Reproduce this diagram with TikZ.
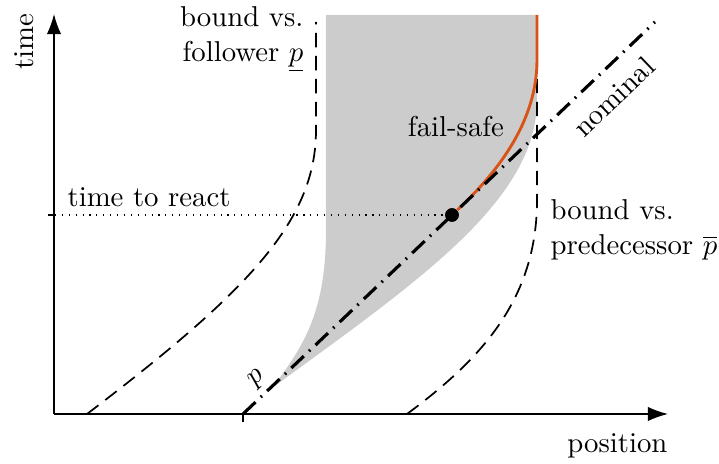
\documentclass[tikz,border=0pt]{standalone}
\usetikzlibrary{arrows.meta}
\definecolor{safeorange}{RGB}{217,83,25}

\begin{document}
\begin{tikzpicture}[
        x=0.012225cm, y=-0.012225cm,
        every node/.style={inner sep=0pt},
        axis/.style={line width=0.5pt, -{Latex[length=7pt,width=5pt]}},
        bound/.style={line width=0.6pt, dash pattern=on 5pt off 3pt},
        nominal/.style={line width=1.1pt, dash pattern=on 6pt off 2.5pt on 0.6pt off 2.5pt},
        failsafe/.style={draw=safeorange, line width=1pt},
        dot/.style={circle, fill=black, minimum size=4.7pt}
    ]
        \useasboundingbox (0,0) rectangle (719,464);

        \coordinate (origin) at (54,414);
        \coordinate (xtip) at (668,414);
        \coordinate (ytip) at (54,14);
        \coordinate (p0) at (243,414);
        \coordinate (nomend) at (655,22);
        \coordinate (ytick) at (48,215);
        \coordinate (folstart) at (87,414);
        \coordinate (folend) at (316,22);
        \coordinate (predstart) at (407,414);
        \coordinate (predend) at (537,22);

        % fail-safe region
        \fill[gray!40] (326,15) -- (537,15) -- (537,100)
            .. controls (537,200) and (420,280) .. (272,388)
            .. controls (305,345) and (326,310) .. (326,230) -- cycle;

        \node[dot] (react) at (452,215) {};

        \draw[dotted] (ytick) -- (react);
        \draw[bound] (folstart) .. controls (250,290) and (316,220) .. (316,130) -- (folend);
        \draw[bound] (predstart) .. controls (480,360) and (537,300) .. (537,200) -- (predend);
        \draw[failsafe] (537,15) -- (537,60) .. controls (537,120) and (500,170) .. (react);
        \draw[nominal] (p0) -- (nomend);
        \node[dot] at (react) {};

        \draw[axis] (origin) -- (xtip);
        \draw[axis] (origin) -- (ytip);
        \draw (p0) -- ++(0,8);
        \draw (ytick) -- ++(6,0);

        \node[anchor=base east] (xlabel) at (668,453) {position};
        \node[anchor=base east, rotate=90] (ylabel) at (33,13) {time};
        \node[anchor=base west] (reactlabel) at (67,207) {time to react};
        \node[anchor=base] (fslabel) at (456,137) {fail-safe};
        \node[rotate=43.7] (nomlabel) at (614,97) {nominal};
        \node[rotate=43.7] (plabel) at (257,379) {$p$};
        \node[anchor=north east, align=right] (follabel) at (304,6) {bound vs.\\follower $\underline{p}$};
        \node[anchor=north west, align=left] (predlabel) at (550,199) {bound vs.\\predecessor $\overline{p}$};
    \end{tikzpicture}
\end{document}
